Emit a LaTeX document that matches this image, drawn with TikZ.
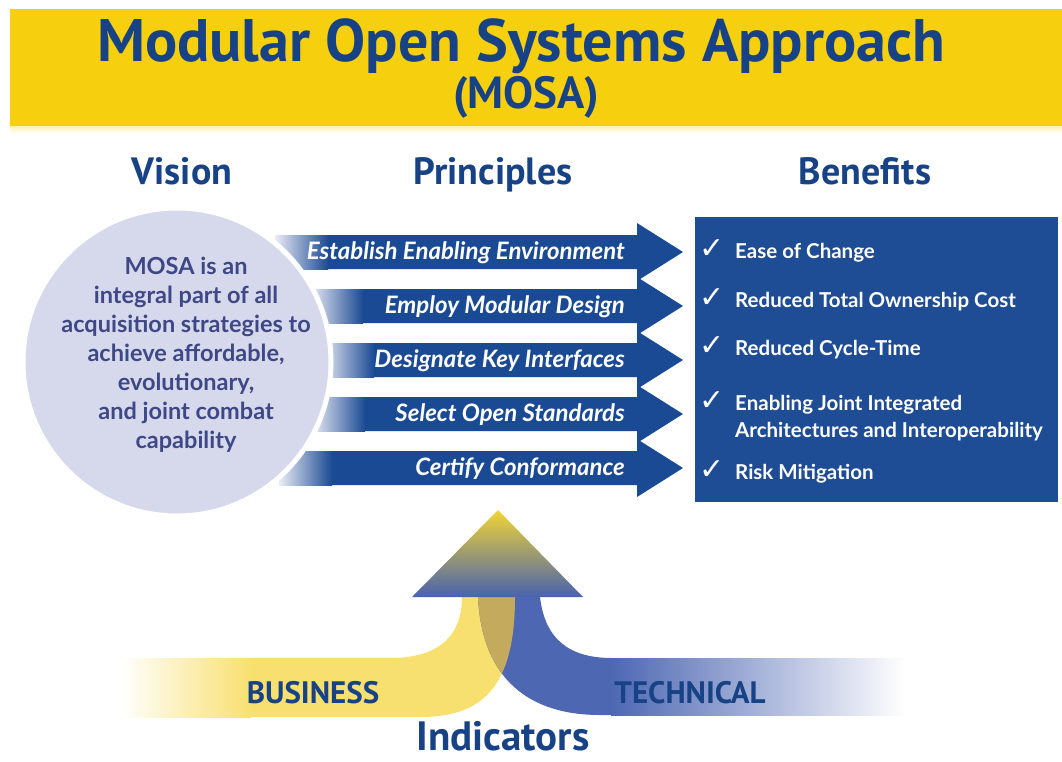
\documentclass[tikz,border=0pt]{standalone}
\usepackage{fontspec}
\setmainfont{Lato}
\newfontfamily\headfont{PT Sans}
\newfontfamily\checkfont{DejaVu Sans}
\usetikzlibrary{positioning}

\definecolor{bandyellow}{RGB}{246,207,14}
\definecolor{navy}{RGB}{24,66,134}
\definecolor{circfill}{RGB}{214,217,235}
\definecolor{circtext}{RGB}{62,72,135}
\definecolor{arrowblue}{RGB}{27,74,148}
\definecolor{boxblue}{RGB}{30,77,150}
\definecolor{bizyellow}{RGB}{248,224,112}
\definecolor{techblue}{RGB}{77,103,179}
\definecolor{overlap}{RGB}{196,170,92}
\definecolor{triyellow}{RGB}{242,212,52}
\definecolor{triblue}{RGB}{72,98,174}

% the two indicator bands
\newcommand\bizpath{(250,658) -- (390,658) .. controls (440,658) and (462,635) .. (462,597)
  -- (515,597) .. controls (515,690) and (480,717) .. (420,717) -- (250,717) -- cycle}
\newcommand\techpath{(478,597) -- (540,597) .. controls (545,640) and (570,658) .. (612,658)
  -- (612,715) -- (600,715) .. controls (530,715) and (482,680) .. (478,597) -- cycle}

\begin{document}
\begin{tikzpicture}[x=1pt,y=-1pt,
  head/.style={font=\headfont\bfseries\fontsize{38}{40}\selectfont,text=navy,anchor=base,inner sep=0pt},
  princ/.style={font=\bfseries\itshape\fontsize{24}{26}\selectfont,text=white,anchor=base east,inner sep=0pt},
  benef/.style={font=\bfseries\fontsize{20.5}{27}\selectfont,text=white,anchor=base west,inner sep=0pt,align=left},
  tick/.style={font=\checkfont\fontsize{30}{30}\selectfont,text=white,anchor=base,inner sep=0pt},
  indic/.style={font=\headfont\bfseries\fontsize{31}{32}\selectfont,text=navy,anchor=base,inner sep=0pt}]
  \useasboundingbox (0,0) rectangle (1062,761);

  % title band
  \fill[bandyellow] (10,9) rectangle (1062,126);
  \shade[top color=bandyellow!30!white, bottom color=white] (10,126) rectangle (1062,134);
  \node[head,font=\headfont\bfseries\fontsize{60}{62}\selectfont] (TITLE) at (521,61) {Modular Open Systems Approach};
  \node[head,font=\headfont\bfseries\fontsize{45}{48}\selectfont] (MOSA) at (526,108) {(MOSA)};

  \node[head] (VISION) at (182,184) {Vision};
  \node[head] (PRINC)  at (493,184) {Principles};
  \node[head] (BENEF)  at (865,184) {Benefits};

  % principle arrows
  \foreach \yc/\xs in {252/287,306/322,360/333,414/324,468/291}{
    \fill[arrowblue] (\xs+40,\yc-17) -- (637,\yc-17) -- (637,\yc-29) -- (683,\yc)
      -- (637,\yc+29) -- (637,\yc+17) -- (\xs+40,\yc+17) -- cycle;
    \shade[left color=circfill!50!white, right color=arrowblue] (\xs-12,\yc-17) rectangle (\xs+41,\yc+17);
  }

  \node[circle,fill=circfill,draw=white,line width=5pt,minimum size=308pt,inner sep=0pt] (CIRCLE) at (177,362) {};
  \node[font=\bfseries\fontsize{23.5}{29}\selectfont,text=circtext,align=center] (VTEXT) at (186,355)
    {MOSA is an\\integral part of all\\acquisition strategies to\\achieve affordable,\\evolutionary,\\and joint combat\\capability};

  \foreach \yc/\txt [count=\i] in {252/Establish Enabling Environment,306/Employ Modular Design,
      360/Designate Key Interfaces,414/Select Open Standards,468/Certify Conformance}
    \node[princ] (P\i) at (625,\yc+7) {\txt};

  % benefits box
  \node[fill=boxblue,minimum width=363pt,minimum height=285pt,anchor=north west,inner sep=0pt] (BOX) at (695,217) {};
  \foreach \yt/\yb/\txt [count=\i] in {258/258/Ease of Change,307/307/Reduced Total Ownership Cost,355/355/Reduced Cycle-Time,
      410/437/{Enabling Joint Integrated\\Architectures and Interoperability},479/479/Risk Mitigation}{
    \node[tick] (C\i) at (712,\yt) {✓};
    \node[benef] (B\i) at (735,\yb) {\txt};
  }

  % indicators
  \fill[bizyellow] \bizpath;
  \shade[left color=white, right color=bizyellow] (120,658) rectangle (251,717);
  \fill[techblue] \techpath;
  \shade[left color=techblue, right color=white] (611,658) rectangle (905,715);
  \begin{scope}
    \clip \bizpath;
    \fill[overlap] \techpath;
  \end{scope}
  \shade[top color=triyellow, bottom color=triblue] (498,510) -- (583,597) -- (412,597) -- cycle;

  \node[indic] (BUS)  at (313,703) {BUSINESS};
  \node[indic] (TECH) at (690,703) {TECHNICAL};
  \node[head,font=\headfont\bfseries\fontsize{41}{43}\selectfont] (IND) at (503,750) {Indicators};
\end{tikzpicture}
\end{document}
